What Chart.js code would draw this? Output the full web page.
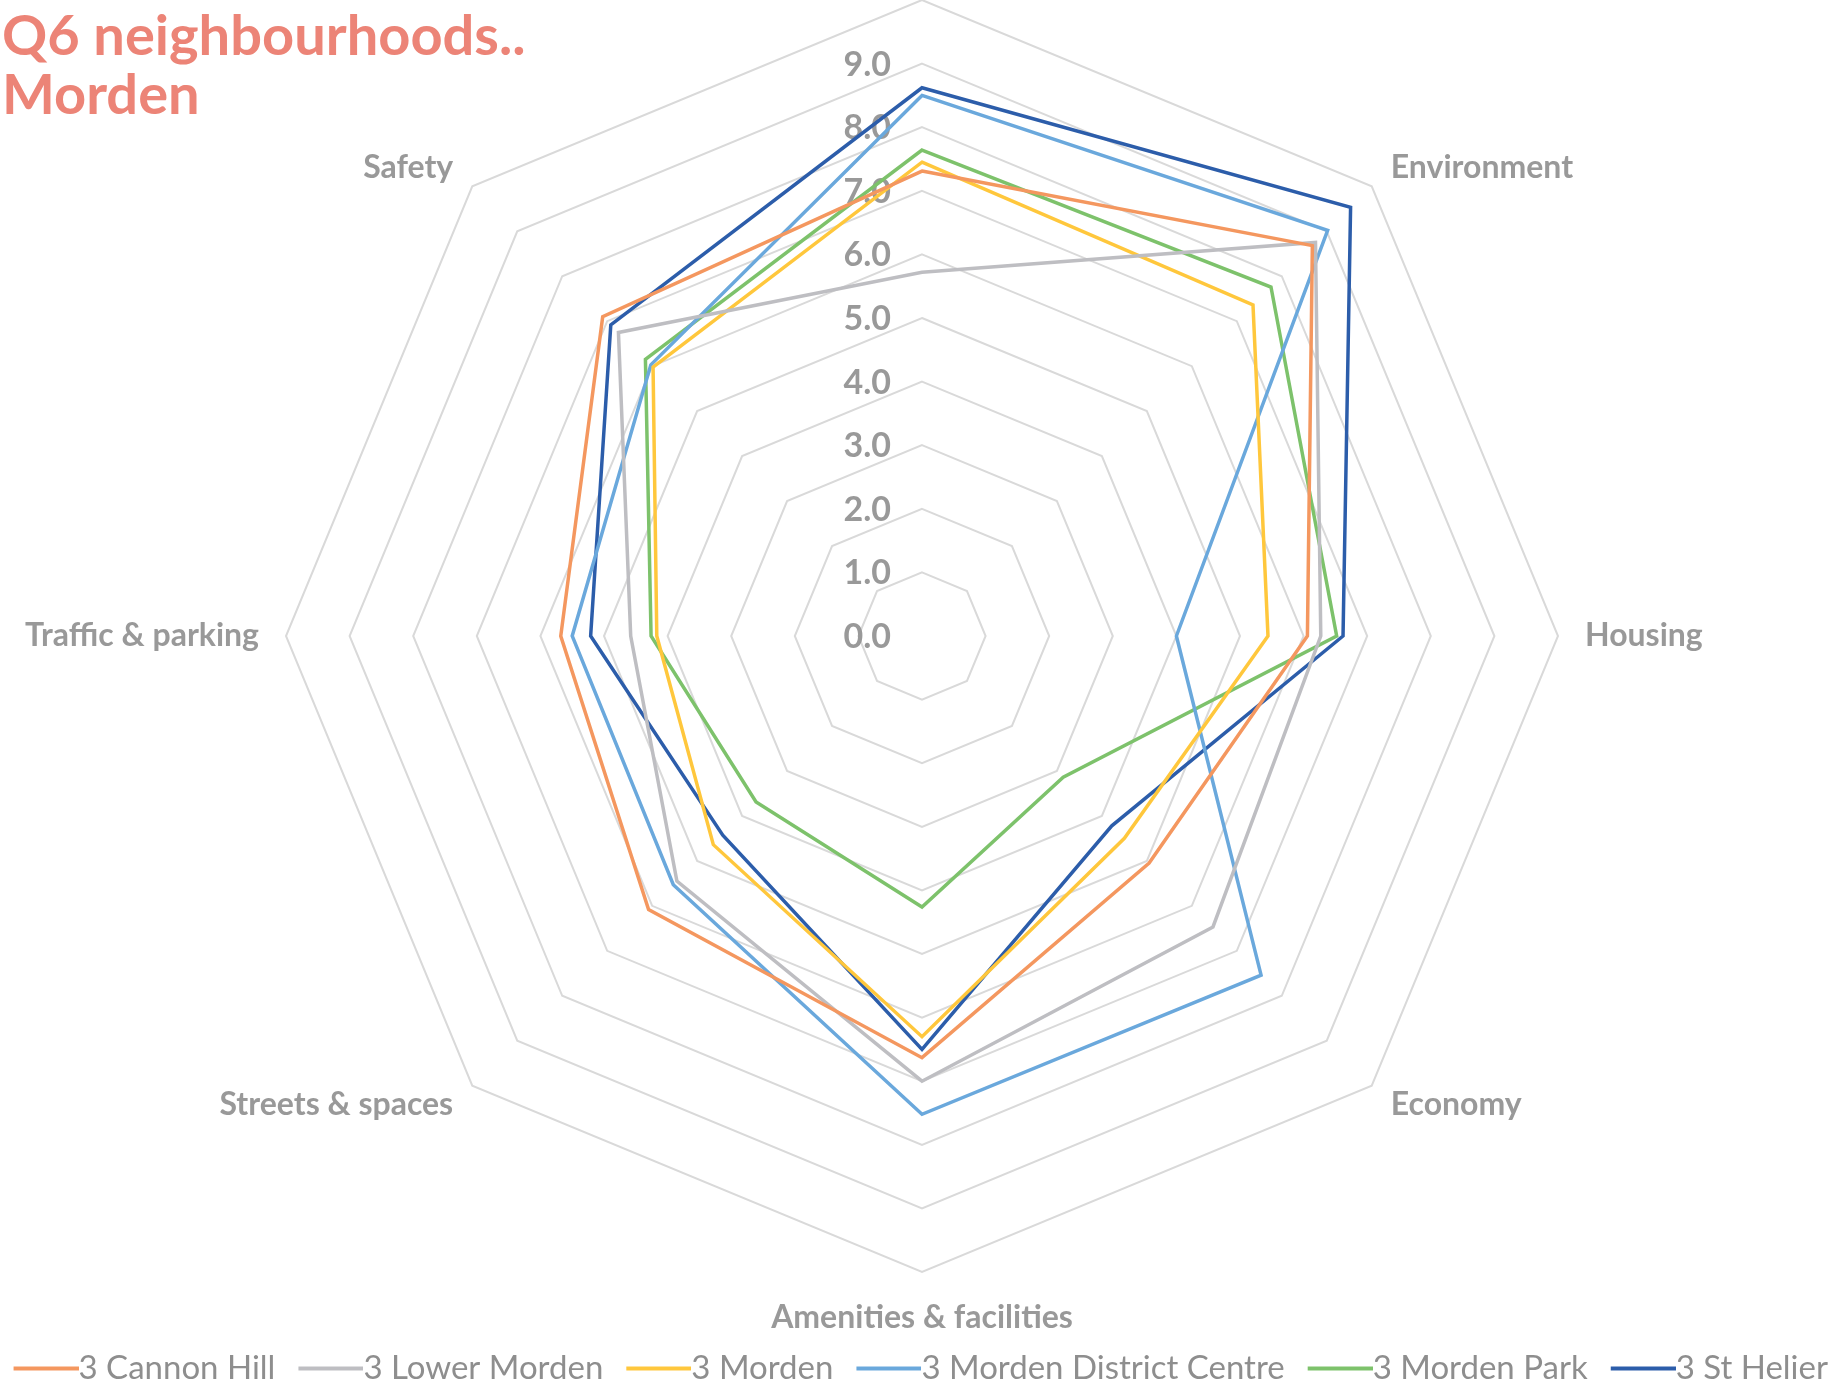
<!DOCTYPE html>
<html>
<head>
<meta charset="utf-8">
<script src="https://cdn.jsdelivr.net/npm/chart.js@4.4.1/dist/chart.umd.min.js"></script>
<style>
  html, body { margin: 0; padding: 0; background: #ffffff; }
  #wrap { position: relative; width: 1845px; height: 1385px; overflow: hidden; }
</style>
</head>
<body>
<div id="wrap"><canvas id="radar" width="1845" height="1385"></canvas></div>
<script>
// axis categories (top one has no visible label in the source)
const categories = ['', 'Environment', 'Housing', 'Economy', 'Amenities & facilities',
    'Streets & spaces', 'Traffic & parking', 'Safety'];

// scores per neighbourhood, same order as categories
const cannonHill     = [7.31, 8.68, 6.06, 5.05, 6.63, 6.08, 5.68, 7.10];
const lowerMorden    = [5.72, 8.75, 6.27, 6.47, 7.00, 5.45, 4.58, 6.75];
const morden         = [7.45, 7.36, 5.44, 4.50, 6.30, 4.64, 4.17, 5.98];
const districtCentre = [8.50, 9.02, 4.00, 7.54, 7.52, 5.53, 5.50, 6.03];
const mordenPark     = [7.64, 7.76, 6.52, 3.14, 4.26, 3.69, 4.26, 6.15];
const stHelier       = [8.62, 9.53, 6.62, 4.22, 6.50, 4.43, 5.21, 6.92];

const seriesNames = ['3 Cannon Hill', '3 Lower Morden', '3 Morden',
    '3 Morden District Centre', '3 Morden Park', '3 St Helier'];
const seriesColors = ['#F4975F', '#BEBEC2', '#FFC73C', '#6AA8DC', '#7DC26B', '#2C5DAA'];

// tick labels shown up the vertical axis
const tickValues = [0, 1, 2, 3, 4, 5, 6, 7, 8, 9];

const titleLines = ['Q6 neighbourhoods..', 'Morden'];

const FONT = 'Lato, "Open Sans", sans-serif';
const GREY = '#999999';
const LEGEND_SIZE = 33;
const LEGEND_LINE = 65;
const LEGEND_BOX = 48;

// legend marker: a line that ends right where the label text starts
function legendLine(color) {
    const c = document.createElement('canvas');
    c.width = LEGEND_BOX + LEGEND_SIZE;
    c.height = 8;
    const g = c.getContext('2d');
    g.strokeStyle = color;
    g.lineWidth = 4;
    g.beginPath();
    g.moveTo(c.width - LEGEND_LINE, 4);
    g.lineTo(c.width, 4);
    g.stroke();
    return c;
}

const allSeries = [cannonHill, lowerMorden, morden, districtCentre, mordenPark, stHelier];

const datasets = allSeries.map((values, i) => ({
    label: seriesNames[i],
    data: values,
    borderColor: seriesColors[i],
    backgroundColor: seriesColors[i],
    borderWidth: 3.5,
    fill: false,
    pointRadius: 0,
    pointHoverRadius: 0,
    pointStyle: legendLine(seriesColors[i]),
    tension: 0
}));

// draws tick numbers, axis labels and the title
const extrasPlugin = {
    id: 'extras',
    beforeDatasetsDraw(chart) {
        const scale = chart.scales.r;
        const ctx = chart.ctx;
        ctx.save();
        ctx.font = 'bold 34px ' + FONT;
        ctx.fillStyle = GREY;
        ctx.textAlign = 'right';
        ctx.textBaseline = 'middle';
        tickValues.forEach(v => {
            const y = scale.yCenter - scale.getDistanceFromCenterForValue(v);
            ctx.fillText(v.toFixed(1), scale.xCenter - 31, y + 1);
        });
        ctx.restore();
    },
    afterDraw(chart) {
        const scale = chart.scales.r;
        const ctx = chart.ctx;
        ctx.save();
        ctx.font = 'bold 32px ' + FONT;
        ctx.fillStyle = GREY;
        categories.forEach((name, i) => {
            if (!name) return;
            if (i === 4) {
                const p = scale.getPointPosition(i, scale.drawingArea + 30);
                ctx.textAlign = 'center';
                ctx.textBaseline = 'top';
                ctx.fillText(name, p.x, p.y);
                return;
            }
            const pos = scale.getPointPosition(i, scale.drawingArea + 27);
            ctx.textAlign = i < 4 ? 'left' : 'right';
            ctx.textBaseline = 'middle';
            ctx.fillText(name, pos.x, pos.y);
        });

        ctx.font = 'bold 56px ' + FONT;
        ctx.fillStyle = '#EC8477';
        ctx.textAlign = 'left';
        ctx.textBaseline = 'alphabetic';
        ctx.fillText(titleLines[0], 2, 55);
        ctx.fillText(titleLines[1], 2, 114);
        ctx.restore();
    }
};

const ctx = document.getElementById('radar').getContext('2d');
const chart = new Chart(ctx, {
    type: 'radar',
    data: {
        labels: categories,
        datasets: datasets
    },
    options: {
        responsive: false,
        animation: false,
        devicePixelRatio: 1,
        layout: {
            padding: { left: -80, right: -77, top: -3, bottom: -10 }
        },
        scales: {
            r: {
                min: 0,
                max: 10,
                ticks: { display: false, stepSize: 1 },
                grid: { color: '#D9D9D9', lineWidth: 2, circular: false },
                angleLines: { display: false },
                pointLabels: { display: false }
            }
        },
        plugins: {
            legend: {
                position: 'bottom',
                title: {
                    display: true,
                    text: '',
                    font: { size: 10 },
                    padding: { top: 0, bottom: 43.5 }
                },
                labels: {
                    usePointStyle: true,
                    pointStyleWidth: LEGEND_BOX,
                    padding: 23.5,
                    color: '#8E8E8E',
                    font: { family: FONT, size: LEGEND_SIZE }
                }
            },
            tooltip: { enabled: false }
        }
    },
    plugins: [extrasPlugin]
});
</script>
</body>
</html>
